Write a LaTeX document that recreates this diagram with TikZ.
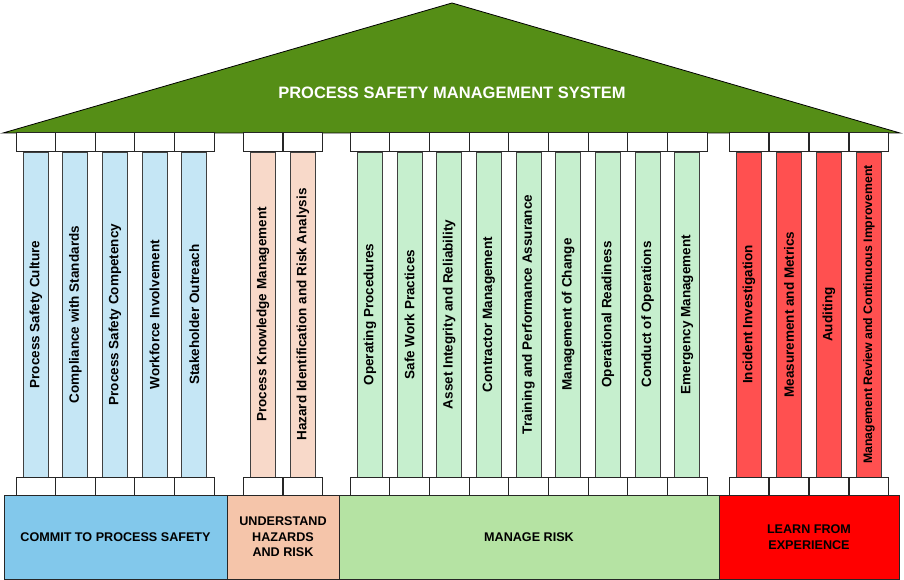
\documentclass[tikz,border=0pt]{standalone}
\usepackage{fontspec}
\setmainfont{Liberation Sans}
\usepackage{xcolor}
\usepackage{tikz}
\usetikzlibrary{positioning}

\definecolor{roofgreen}{RGB}{85,142,22}
\definecolor{commitblue}{RGB}{130,200,235}
\definecolor{hazardpeach}{RGB}{245,197,170}
\definecolor{riskgreen}{RGB}{181,227,163}
\definecolor{learnred}{RGB}{255,0,0}
\definecolor{colblue}{RGB}{197,230,245}
\definecolor{colpeach}{RGB}{248,217,201}
\definecolor{colgreen}{RGB}{198,239,206}
\definecolor{colred}{RGB}{255,80,80}

\begin{document}
\begin{tikzpicture}[x=1pt, y=-1pt,
  pillar/.style={draw=black!75, line width=0.9pt, fill=#1, minimum width=25pt, minimum height=325pt, inner sep=0pt, font=\bfseries\fontsize{13.5}{16}\selectfont},
  colcap/.style={draw=black!85, line width=0.8pt, fill=white, minimum width=39.7pt, inner sep=0pt},
  base/.style={draw=black!85, line width=0.9pt, fill=#1, minimum height=84pt, inner sep=0pt, align=center, font=\bfseries\fontsize{12.6}{15.5}\selectfont}]
  \useasboundingbox (0,0) rectangle (904,580);

  % roof
  \coordinate (eaveL) at (3,133);
  \coordinate (apex) at (452,3);
  \coordinate (eaveR) at (900,133);
  \draw[fill=roofgreen, line width=0.8pt] (eaveL) -- (apex) -- (eaveR) -- cycle;
  \node[text=white, font=\bfseries\fontsize{16.5}{18}\selectfont] (title) at (452,93) {PROCESS SAFETY MANAGEMENT SYSTEM};

  % commit to process safety
  \node[pillar=colblue] (p1) at (35.8,314.5) {\rotatebox{90}{Process Safety Culture}};
  \node[pillar=colblue] (p2) at (75.4,314.5) {\rotatebox{90}{Compliance with Standards}};
  \node[pillar=colblue] (p3) at (115,314.5) {\rotatebox{90}{Process Safety Competency}};
  \node[pillar=colblue] (p4) at (154.6,314.5) {\rotatebox{90}{Workforce Involvement}};
  \node[pillar=colblue] (p5) at (194.2,314.5) {\rotatebox{90}{Stakeholder Outreach}};

  % understand hazards and risk
  \node[pillar=colpeach] (p6) at (263,314.5) {\rotatebox{90}{Process Knowledge Management}};
  \node[pillar=colpeach] (p7) at (303,314.5) {\rotatebox{90}{Hazard Identification and Risk Analysis}};

  % manage risk
  \node[pillar=colgreen] (p8) at (369.8,314.5) {\rotatebox{90}{Operating Procedures}};
  \node[pillar=colgreen] (p9) at (409.5,314.5) {\rotatebox{90}{Safe Work Practices}};
  \node[pillar=colgreen] (p10) at (449.2,314.5) {\rotatebox{90}{Asset Integrity and Reliability}};
  \node[pillar=colgreen] (p11) at (488.8,314.5) {\rotatebox{90}{Contractor Management}};
  \node[pillar=colgreen] (p12) at (528.5,314.5) {\rotatebox{90}{Training and Performance Assurance}};
  \node[pillar=colgreen] (p13) at (568.2,314.5) {\rotatebox{90}{Management of Change}};
  \node[pillar=colgreen] (p14) at (607.8,314.5) {\rotatebox{90}{Operational Readiness}};
  \node[pillar=colgreen] (p15) at (647.5,314.5) {\rotatebox{90}{Conduct of Operations}};
  \node[pillar=colgreen] (p16) at (687.2,314.5) {\rotatebox{90}{Emergency Management}};

  % learn from experience
  \node[pillar=colred] (p17) at (749,314.5) {\rotatebox{90}{Incident Investigation}};
  \node[pillar=colred] (p18) at (789,314.5) {\rotatebox{90}{Measurement and Metrics}};
  \node[pillar=colred] (p19) at (829,314.5) {\rotatebox{90}{Auditing}};
  \node[pillar=colred, font=\bfseries\fontsize{12.3}{14}\selectfont] (p20) at (869,314.5) {\rotatebox{90}{Management Review and Continuous Improvement}};

  % capitals and plinths
  \foreach \i in {1,...,20} {
    \node[colcap, minimum height=19pt, above=0pt of p\i] (top\i) {};
    \node[colcap, minimum height=18pt, below=0pt of p\i] (foot\i) {};
  }

  % foundation
  \node[base=commitblue, minimum width=223pt] (commit) at (115.5,537) {COMMIT TO PROCESS SAFETY};
  \node[base=hazardpeach, minimum width=112pt] (understand) at (283,537) {UNDERSTAND\\HAZARDS\\AND RISK};
  \node[base=riskgreen, minimum width=380pt] (manage) at (529,537) {MANAGE RISK};
  \node[base=learnred, minimum width=180pt] (learn) at (809,537) {LEARN FROM\\EXPERIENCE};
\end{tikzpicture}
\end{document}
